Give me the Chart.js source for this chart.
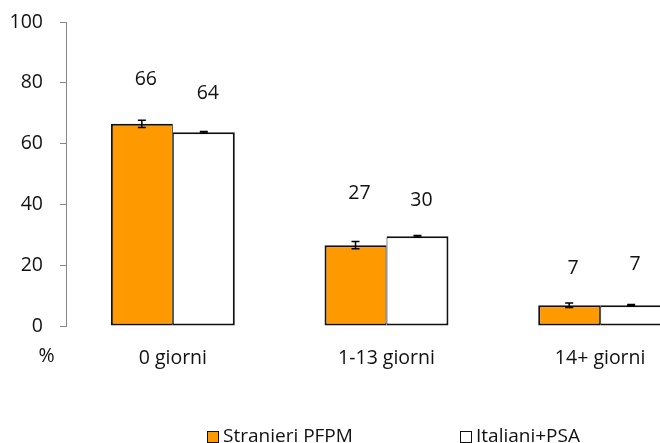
<!DOCTYPE html>
<html>
<head>
<meta charset="utf-8">
<script src="https://cdn.jsdelivr.net/npm/chart.js@4/dist/chart.umd.min.js"></script>
<style>
  body { margin: 0; background: #fff; overflow: hidden; }
  #wrap { position: relative; width: 660px; height: 443px; overflow: hidden; }
  #c { position: absolute; left: 0; top: 0; }
  .leg { position: absolute; top: 423px; font: 19px "Open Sans", sans-serif; color: #111; white-space: nowrap; line-height: 24px; }
  .leg span.box { display: inline-block; width: 10px; height: 10px; border: 1.5px solid #111; vertical-align: -1px; margin-right: 4px; }
</style>
</head>
<body>
<div id="wrap">
  <canvas id="c" width="760" height="443"></canvas>
  <div class="leg" style="left:207px"><span class="box" style="background:#ff9900"></span>Stranieri PFPM</div>
  <div class="leg" style="left:460px"><span class="box" style="background:#fff"></span>Italiani+PSA</div>
</div>
<script>
// dati
const categorie = ["0 giorni", "1-13 giorni", "14+ giorni"];
const stranieri = [66.5, 26.6, 6.8];
const italiani = [63.7, 29.5, 6.8];
const errStranieri = [1.2, 1.2, 0.75];
const errItaliani = [0.3, 0.3, 0.25];
const etichetteStranieri = ["66", "27", "7"];
const etichetteItaliani = ["64", "30", "7"];
const yTicks = [0, 20, 40, 60, 80, 100];

// spostamento verticale (px) delle etichette sopra le barre
const alzaStranieri = [44, 52, 37];
const alzaItaliani = [39, 36, 41];

const FONT = '"Open Sans", sans-serif';
const FSIZE = 19.5;

const pluginExtra = {
  id: 'extra',
  afterDatasetsDraw(chart) {
    const ctx = chart.ctx;
    const y = chart.scales.y;
    const errori = [errStranieri, errItaliani];
    const etichette = [etichetteStranieri, etichetteItaliani];
    const alza = [alzaStranieri, alzaItaliani];
    ctx.save();
    chart.data.datasets.forEach((ds, d) => {
      const meta = chart.getDatasetMeta(d);
      meta.data.forEach((bar, i) => {
        const v = ds.data[i];
        const top = y.getPixelForValue(v + errori[d][i]);
        const bot = y.getPixelForValue(v - errori[d][i]);
        ctx.strokeStyle = '#000';
        ctx.lineWidth = 1.5;
        ctx.beginPath();
        ctx.moveTo(bar.x, top); ctx.lineTo(bar.x, bot);
        ctx.moveTo(bar.x - 4, top); ctx.lineTo(bar.x + 4, top);
        ctx.moveTo(bar.x - 4, bot); ctx.lineTo(bar.x + 4, bot);
        ctx.stroke();

        ctx.fillStyle = '#111';
        ctx.font = FSIZE + 'px ' + FONT;
        ctx.textAlign = 'center';
        ctx.textBaseline = 'middle';
        ctx.fillText(etichette[d][i], bar.x + 4, bar.y - alza[d][i]);
      });
    });
    // simbolo % sotto l'asse
    ctx.fillStyle = '#111';
    ctx.font = FSIZE + 'px ' + FONT;
    ctx.textAlign = 'center';
    ctx.textBaseline = 'middle';
    ctx.fillText('%', 46.5, chart.chartArea.bottom + 30);
    ctx.restore();
  }
};

new Chart(document.getElementById('c'), {
  type: 'bar',
  data: {
    labels: categorie,
    datasets: [
      {
        label: 'Stranieri PFPM',
        data: stranieri,
        backgroundColor: '#ff9900',
        borderColor: '#111',
        borderWidth: { left: 2, top: 2, bottom: 2, right: 1 },
        borderSkipped: false
      },
      {
        label: 'Italiani+PSA',
        data: italiani,
        backgroundColor: '#ffffff',
        borderColor: '#111',
        borderWidth: { left: 1, top: 2, bottom: 2, right: 2 },
        borderSkipped: false
      }
    ]
  },
  options: {
    responsive: false,
    animation: false,
    events: [],
    layout: { padding: { left: 0, top: 22, right: 53, bottom: 57 } },
    datasets: { bar: { categoryPercentage: 0.58, barPercentage: 1.0 } },
    plugins: {
      legend: { display: false },
      tooltip: { enabled: false }
    },
    scales: {
      x: {
        grid: { display: false },
        border: { display: false },
        ticks: { color: '#111', font: { family: FONT, size: FSIZE }, padding: 13 },
        afterFit(scale) { scale.height = 60; scale.paddingLeft = 0; scale.paddingRight = 0; }
      },
      y: {
        min: 0,
        max: 100,
        afterBuildTicks(scale) { scale.ticks = yTicks.map(v => ({ value: v })); },
        grid: { drawOnChartArea: false, drawTicks: true, tickLength: 6, color: '#888' },
        border: { display: true, color: '#888', width: 1 },
        ticks: { color: '#111', font: { family: FONT, size: FSIZE }, padding: 17 },
        afterFit(scale) { scale.width = 66; scale.paddingTop = 0; scale.paddingBottom = 0; }
      }
    }
  },
  plugins: [pluginExtra]
});
</script>
</body>
</html>
